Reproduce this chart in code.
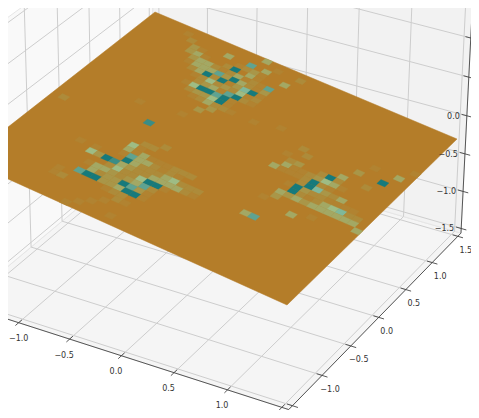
import numpy as np, pandas as pd, altair as alt

cell_rows = [
"0000000000000004000000000000000000000000",
"0000010000000000010020000000000000000000",
"0000002000040070400000000000000000000000",
"0000000310000123100400000000000000000000",
"0000000341002904100000000000000000000000",
"0000000034421241217000000000000000000000",
"0000000014447394213000000000000000000000",
"0000000002492913691000000000000000000000",
"0000000000125232512000000000000000000000",
"0000000000023417921000000000000000000001",
"0000000000159979100000000000000000000000",
"0000000000023359100000010000000000010040",
"0000000000001242210010000000000000000000",
"0000000000000003000000000002000000300900",
"0000000000000030000000000000200000000000",
"0000000000000000000000000010000004002000",
"0000000000000100000000000002300292000000",
"0000000010000000000000000004112354100000",
"0000000000000000000000000041112921000000",
"0000000000000000000000000000002963240000",
"0000000000080000000000000000019322111100",
"0000000000000000000000000000009212456220",
"0200000000000000000000000000043434444440",
"0000000000000002000000000000030000000004",
"0000000000000220000000000000100000100000",
"0000000000005100000000000000000040000000",
"0000000000004141112220000000000000000000",
"0000000000001744212100000000000000000000",
"0000000101000942224522200000470000000000",
"0000000005398432244442100000000000000000",
"0000000000002522599100000000000000000000",
"0000000000144323472000000000000000000000",
"0000000000042339731000000000000000000000",
"0000000000799334991000000000000000000000",
"0000000010000012200000000000000000000000",
"0000000012000000210000000000000000000000",
"0000000000000001000000000000000000000000",
"0000000000000010000000000000000000000000",
"0000000000000100010000000000000000000000",
"0000000000001000000000000000000000000000",
]
levels = [1,2,3,4,5,6,7,8,9]
level_colors = ["#b18331","#ad8b3a","#a99648","#a3a864","#9ebc84","#7fb89a","#5fa391","#3a8d86","#167a7c"]
plane_color = "#b47d29"
x_ticks = [-1.5,-1.0,-0.5,0.0,0.5,1.0,1.5]
y_ticks = [-1.5,-1.0,-0.5,0.0,0.5,1.0,1.5]
z_ticks = [-1.5,-1.0,-0.5,0.0,0.5,1.0,1.5]
x_labels = [-0.5,0.0,0.5,1.0]
x_label_edge = [-1.0]
y_labels = [-1.0,-0.5,0.0,0.5,1.0,1.5]
z_labels = [-1.5,-1.0,-0.5,0.0]
fmt = lambda t: f"{t:.1f}".replace("-", "\u2212")
L = 1.5625

calib = [
(-1,-L,-L,19,322),(-.5,-L,-L,70,339),(0,-L,-L,121,355),(.5,-L,-L,173,373),(1,-L,-L,227,390),(1.5,-L,-L,282,407),
(L,-1,-L,323,376),(L,-.5,-L,352,346),(L,0,-L,379,317),(L,.5,-L,405,290),(L,1,-L,432,263),(L,1.5,-L,457,236),
(L,L,1,470,38),(L,L,.5,468.5,77),(L,L,0,466.7,116),(L,L,-.5,465,154),(L,L,-1,463,192),(L,L,-1.5,461.5,228),
(-L,-.5,-L,31,247),(-L,0,-L,62,222),(-L,.5,-L,92,196),
(-L,-.5,.5,26,90),(-L,0,.5,59,66),(-L,.5,.5,90,42),(-L,1,.5,120,20),
(-L,-.5,1,25,51),(-L,0,1,58,26),(-L,.5,1,89,3),
(-1,L,.5,207,7),(0,L,.5,307,34),(1,L,.5,410,62),(0,L,0,307,71),(1,L,0,409,100),
]
A = []
for X,Y,Z,u,v in calib:
    A.append([X,Y,Z,1,0,0,0,0,-u*X,-u*Y,-u*Z,-u])
    A.append([0,0,0,0,X,Y,Z,1,-v*X,-v*Y,-v*Z,-v])
cam = np.linalg.svd(np.array(A,float))[2][-1].reshape(3,4)
def proj(X,Y,Z):
    h = cam @ np.array([X,Y,Z,1.0])
    return float(h[0]/h[2]), float(h[1]/h[2])

g,h_,a,b,d,e = -0.03879,-0.07972,284.3,-186.3,121.6,135.25
def sheet(u,v):
    w = g*u+h_*v+1
    return (a*u+b*v+155)/w, (d*u+e*v+12)/w

xs = alt.X("px:Q", axis=None, scale=alt.Scale(domain=[8,471], nice=False, zero=False))
ys = alt.Y("py:Q", axis=None, scale=alt.Scale(domain=[410,8], nice=False, zero=False))

def polys(items):
    rows=[]
    for i,(col,pts) in enumerate(items):
        for k,(px,py) in enumerate(pts):
            rows.append(dict(id=i,k=k,px=px,py=py,c=col))
    return pd.DataFrame(rows)
def lines(items):
    rows=[]
    for i,(p,q) in enumerate(items):
        rows.append(dict(id=i,k=0,px=p[0],py=p[1]))
        rows.append(dict(id=i,k=1,px=q[0],py=q[1]))
    return pd.DataFrame(rows)

panes = polys([
 ("#f5f5f5",[proj(-L,-L,-L),proj(L,-L,-L),proj(L,L,-L),proj(-L,L,-L)]),
 ("#f9f9f9",[proj(-L,-L,-L),proj(-L,L,-L),proj(-L,L,L),proj(-L,-L,L)]),
 ("#f2f2f2",[proj(-L,L,-L),proj(L,L,-L),proj(L,L,L),proj(-L,L,L)]),
])
pane_layer = alt.Chart(panes).mark_line(interpolate="linear-closed", strokeWidth=1, clip=True).encode(
    x=xs,y=ys,detail="id:N",order="k:Q",fill=alt.Fill("c:N",scale=None),stroke=alt.value("#e6e6e6"))

grid=[]
for t in x_ticks:
    grid += [(proj(t,-L,-L),proj(t,L,-L)),(proj(t,L,-L),proj(t,L,L))]
for t in y_ticks:
    grid += [(proj(-L,t,-L),proj(L,t,-L)),(proj(-L,t,-L),proj(-L,t,L))]
for t in z_ticks:
    grid += [(proj(-L,-L,t),proj(-L,L,t)),(proj(-L,L,t),proj(L,L,t))]
grid_layer = alt.Chart(lines(grid)).mark_line(color="#cdcdcd", strokeWidth=1, clip=True).encode(x=xs,y=ys,detail="id:N",order="k:Q")

axes=[(proj(-L,-L,-L),proj(L,-L,-L)),(proj(L,-L,-L),proj(L,L,-L)),(proj(L,L,-L),proj(L,L,L))]
for t in x_ticks: axes.append((proj(t,-L-.05,-L),proj(t,-L+.05,-L)))
for t in y_ticks: axes.append((proj(L+.05,t,-L),proj(L-.05,t,-L)))
for t in z_ticks: axes.append((proj(L+.05,L,t),proj(L-.05,L,t)))
axis_layer = alt.Chart(lines(axes)).mark_line(color="#444444", strokeWidth=0.9, clip=True).encode(x=xs,y=ys,detail="id:N",order="k:Q")

sheet_df = polys([(plane_color,[sheet(0,0),sheet(1,0),sheet(1,1),sheet(0,1)])])
sheet_layer = alt.Chart(sheet_df).mark_line(interpolate="linear-closed", strokeWidth=0.5, clip=True, color=plane_color, fill=plane_color).encode(
    x=xs,y=ys,detail="id:N",order="k:Q")

N=len(cell_rows)
rows=[]
for j,r in enumerate(cell_rows):
    for i,ch in enumerate(r):
        if ch!="0":
            for k,(du,dv) in enumerate([(0,0),(1,0),(1,1),(0,1)]):
                px,py = sheet((i+du)/N,(j+dv)/N)
                rows.append(dict(id=f"{i}_{j}",k=k,px=px,py=py,value=int(ch)))
cells=pd.DataFrame(rows)
cs=alt.Scale(domain=levels,range=level_colors)
cell_layer = alt.Chart(cells).mark_line(interpolate="linear-closed", strokeWidth=0.3, clip=True).encode(
    x=xs,y=ys,detail="id:N",order="k:Q",
    fill=alt.Fill("value:Q",scale=cs,legend=None),stroke=alt.Stroke("value:Q",scale=cs,legend=None))

def texts(items,dx,dy,align="center"):
    return alt.Chart(pd.DataFrame([dict(px=p[0],py=p[1],t=fmt(v)) for v,p in items])).mark_text(
        font="DejaVu Sans",fontSize=8,color="#333333",dx=dx,dy=dy,baseline="middle",align=align).encode(x=xs,y=ys,text="t:N")
tx = texts([(t,proj(t,-L,-L)) for t in x_labels],-5.5,16.5)
tx0 = texts([(t,proj(t,-L,-L)) for t in x_label_edge],0,16.5)
ty = texts([(t,proj(L,t,-L)) for t in y_labels],8,14.5)
tz = texts([(t,proj(L,L,t)) for t in z_labels],-7,1,"right")

chart = alt.layer(pane_layer,grid_layer,axis_layer,sheet_layer,cell_layer,tx,tx0,ty,tz).properties(
    width=463,height=402,padding=0,autosize=alt.AutoSizeParams(type="none")
).configure_view(stroke=None).resolve_scale(fill="independent",stroke="independent")
chart.save("out.html", embed_options={"renderer":"svg","actions":False})
